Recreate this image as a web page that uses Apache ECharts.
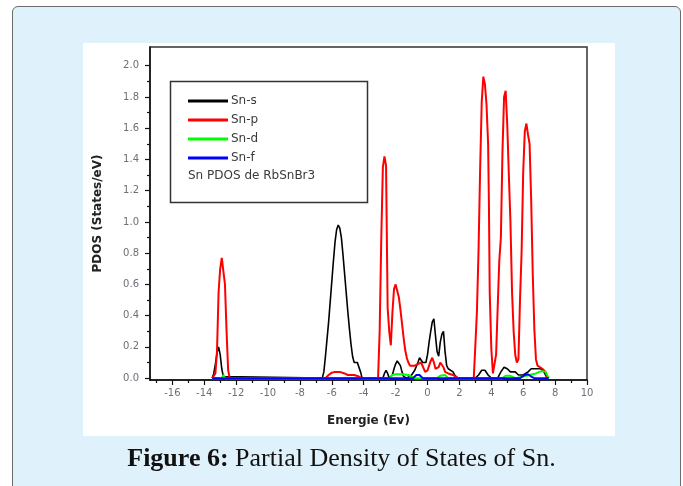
<!DOCTYPE html>
<html>
<head>
<meta charset="utf-8">
<script src="https://cdn.jsdelivr.net/npm/echarts@6/dist/echarts.min.js"></script>
<style>
  html, body { margin: 0; padding: 0; width: 683px; height: 486px; overflow: hidden; background: #fff; }
  .frame { position: absolute; left: 12px; top: 6px; width: 667px; height: 500px; background: #dff1fb; border: 1px solid #6b6b6b; border-radius: 6px; }
  .panel { position: absolute; left: 83px; top: 43px; width: 532px; height: 393px; background: #fff; }
  #chart { position: absolute; left: 0; top: 0; width: 683px; height: 486px; }
</style>
</head>
<body>
<div class="frame"></div>
<div class="panel"></div>
<div id="chart"></div>
<script>
// energy (eV) / PDOS (states/eV) pairs
const snS = [
  [-13.5, 0], [-13.4, 0.03], [-13.3, 0.09], [-13.2, 0.16], [-13.1, 0.2], [-13.0, 0.15], [-12.9, 0.06], [-12.8, 0.01], [-12.7, 0],
  [-6.6, 0], [-6.5, 0.04], [-6.4, 0.14], [-6.3, 0.25], [-6.2, 0.36], [-6.1, 0.49], [-6.0, 0.62], [-5.9, 0.75], [-5.8, 0.87],
  [-5.7, 0.95], [-5.6, 0.98], [-5.5, 0.96], [-5.4, 0.9], [-5.3, 0.79], [-5.2, 0.67], [-5.1, 0.55], [-5.0, 0.43], [-4.9, 0.32],
  [-4.8, 0.22], [-4.7, 0.14], [-4.6, 0.1], [-4.5, 0.11], [-4.4, 0.1], [-4.3, 0.09], [-4.2, 0.04], [-4.1, 0],
  [-2.8, 0], [-2.7, 0.03], [-2.6, 0.05], [-2.5, 0.03], [-2.4, 0], [-2.2, 0.02], [-2.1, 0.06], [-2.0, 0.09], [-1.9, 0.11],
  [-1.8, 0.11], [-1.7, 0.08], [-1.6, 0.04], [-1.5, 0.01], [-1.3, 0], [-1.0, 0.02], [-0.8, 0.05], [-0.6, 0.1], [-0.5, 0.13],
  [-0.4, 0.12], [-0.3, 0.1], [-0.1, 0.1], [0.0, 0.15], [0.1, 0.23], [0.2, 0.3], [0.3, 0.36], [0.4, 0.38], [0.5, 0.27],
  [0.6, 0.17], [0.7, 0.14], [0.8, 0.23], [0.9, 0.28], [1.0, 0.3], [1.1, 0.17], [1.2, 0.08], [1.3, 0.06], [1.4, 0.05],
  [1.6, 0.04], [1.7, 0.02], [1.9, 0],
  [3.0, 0], [3.2, 0.02], [3.4, 0.05], [3.5, 0.06], [3.6, 0.05], [3.8, 0.02], [4.0, 0], [4.4, 0], [4.6, 0.04], [4.8, 0.07],
  [4.9, 0.075], [5.0, 0.06], [5.2, 0.04], [5.5, 0.04], [5.7, 0.02], [6.0, 0.02], [6.3, 0.04], [6.5, 0.06], [6.8, 0.06],
  [7.1, 0.06], [7.3, 0.04], [7.5, 0]
];
const snP = [
  [-13.5, 0], [-13.3, 0.03], [-13.2, 0.17], [-13.1, 0.55], [-13.0, 0.7], [-12.9, 0.77], [-12.8, 0.76], [-12.7, 0.6],
  [-12.6, 0.3], [-12.5, 0.05], [-12.4, 0],
  [-6.4, 0], [-6.2, 0.02], [-6.0, 0.035], [-5.8, 0.04], [-5.5, 0.04], [-5.2, 0.03], [-5.0, 0.02], [-4.6, 0.02], [-4.3, 0.01], [-4.1, 0],
  [-3.1, 0], [-3.0, 0.3], [-2.9, 0.89], [-2.8, 1.35], [-2.7, 1.42], [-2.6, 1.36], [-2.5, 0.45], [-2.4, 0.3], [-2.3, 0.21],
  [-2.2, 0.42], [-2.1, 0.57], [-2.0, 0.6], [-1.9, 0.6], [-1.8, 0.52], [-1.7, 0.44], [-1.6, 0.35], [-1.5, 0.26], [-1.4, 0.18],
  [-1.3, 0.13], [-1.2, 0.1], [-1.1, 0.08], [-1.0, 0.07], [-0.8, 0.08], [-0.6, 0.09], [-0.4, 0.1], [-0.3, 0.09], [-0.15, 0.04],
  [0.0, 0.05], [0.1, 0.08], [0.2, 0.11], [0.3, 0.13], [0.4, 0.1], [0.5, 0.06], [0.6, 0.05], [0.7, 0.07], [0.8, 0.1],
  [0.9, 0.1], [1.0, 0.07], [1.1, 0.04], [1.3, 0.03], [1.6, 0.02], [1.9, 0],
  [2.9, 0], [3.0, 0.21], [3.1, 0.43], [3.2, 0.82], [3.3, 1.34], [3.4, 1.77], [3.5, 1.93], [3.6, 1.88], [3.7, 1.75],
  [3.8, 1.5], [3.85, 1.12], [3.9, 0.55], [4.0, 0.19], [4.1, 0.03], [4.2, 0.02], [4.3, 0.15], [4.4, 0.45], [4.5, 0.75],
  [4.6, 0.9], [4.7, 1.45], [4.8, 1.8], [4.9, 1.84], [5.0, 1.62], [5.1, 1.3], [5.2, 1.0], [5.3, 0.55], [5.4, 0.3],
  [5.5, 0.15], [5.6, 0.1], [5.7, 0.12], [5.8, 0.5], [5.9, 0.81], [6.0, 1.32], [6.1, 1.58], [6.2, 1.63], [6.3, 1.56],
  [6.4, 1.5], [6.5, 1.14], [6.6, 0.66], [6.7, 0.31], [6.8, 0.12], [6.9, 0.08], [7.0, 0.07], [7.2, 0.06], [7.4, 0.04],
  [7.5, 0.01], [7.6, 0]
];
const snD = [
  [-13.5, 0], [-12.9, 0], [-12.8, 0.02], [-12.7, 0], [-2.4, 0], [-2.2, 0.02], [-2.0, 0.025], [-1.6, 0.025], [-1.2, 0.02],
  [-1.0, 0.01], [-0.8, 0], [0.6, 0], [0.8, 0.015], [1.1, 0.02], [1.3, 0], [4.7, 0], [4.9, 0.015], [5.2, 0.015], [5.5, 0],
  [6.0, 0.01], [6.4, 0.02], [6.8, 0.03], [7.0, 0.04], [7.2, 0.045], [7.4, 0.04], [7.6, 0]
];
const snF = [
  [-13.5, 0], [-0.9, 0], [-0.7, 0.02], [-0.5, 0.02], [-0.3, 0], [5.8, 0], [6.1, 0.02], [6.3, 0.025], [6.5, 0.01], [6.7, 0], [7.6, 0]
];

const seriesNames = ['Sn-s', 'Sn-p', 'Sn-d', 'Sn-f'];
const seriesColors = ['#000000', '#ff0000', '#00ff00', '#0000ff'];
const xTicks = [-16, -14, -12, -10, -8, -6, -4, -2, 0, 2, 4, 6, 8, 10];
const xMinorTicks = [-17, -15, -13, -11, -9, -7, -5, -3, -1, 1, 3, 5, 7, 9];
const yTicks = [0, 0.2, 0.4, 0.6, 0.8, 1.0, 1.2, 1.4, 1.6, 1.8, 2.0];
const yMinorTicks = [0.1, 0.3, 0.5, 0.7, 0.9, 1.1, 1.3, 1.5, 1.7, 1.9];

const chart = echarts.init(document.getElementById('chart'));

const sans = 'DejaVu Sans, Liberation Sans, sans-serif';
const labelStyle = { color: '#6e6e7a', fontSize: 10, fontFamily: sans };
const tickStyle = { color: '#111', width: 1.2 };

chart.setOption({
  animation: false,
  backgroundColor: 'transparent',
  title: {
    text: '{b|Figure 6:} Partial Density of States of Sn.',
    left: 'center',
    top: 441,
    textStyle: {
      fontFamily: 'Liberation Serif, serif', fontSize: 26, fontWeight: 'normal', color: '#111',
      rich: { b: { fontFamily: 'Liberation Serif, serif', fontSize: 26, fontWeight: 'bold', color: '#111' } }
    }
  },
  legend: {
    orient: 'vertical',
    left: 188,
    top: 94,
    itemWidth: 40,
    itemHeight: 3,
    itemGap: 5,
    icon: 'rect',
    padding: 0,
    textStyle: { color: '#3a3a3a', fontSize: 12, fontFamily: sans, padding: [0, 0, 0, -2], lineHeight: 14 },
    data: seriesNames
  },
  graphic: [
    { type: 'rect', left: 168, top: 79, shape: { width: 197, height: 121 }, style: { fill: 'none', stroke: '#333', lineWidth: 1.5 } },
    { type: 'text', left: 188, top: 170, style: { text: 'Sn PDOS de RbSnBr3', fill: '#3a3a3a', fontSize: 12, fontFamily: sans } }
  ],
  grid: { left: 150, right: 96, top: 47, bottom: 106, show: true, borderColor: '#333', borderWidth: 1.5, backgroundColor: 'transparent' },
  xAxis: [
    {
      type: 'value', min: -17.4, max: 10,
      name: 'Energie (Ev)', nameLocation: 'middle', nameGap: 35,
      nameTextStyle: { color: '#222', fontSize: 12, fontWeight: 'bold', fontFamily: sans },
      axisLine: { show: true, onZero: false, lineStyle: { color: '#111', width: 1.5 } },
      axisTick: { show: true, length: 5, lineStyle: tickStyle, customValues: xTicks },
      axisLabel: { customValues: xTicks, margin: 8, ...labelStyle },
      splitLine: { show: false }
    },
    {
      type: 'value', min: -17.4, max: 10, position: 'bottom',
      axisLine: { show: false, onZero: false },
      axisTick: { show: true, length: 3, lineStyle: tickStyle, customValues: xMinorTicks },
      axisLabel: { show: false },
      splitLine: { show: false }
    }
  ],
  yAxis: [
    {
      type: 'value', min: -0.012, max: 2.12,
      name: 'PDOS (States/eV)', nameLocation: 'middle', nameGap: 46, nameRotate: 90,
      nameTextStyle: { color: '#222', fontSize: 12, fontWeight: 'bold', fontFamily: sans },
      axisLine: { show: true, onZero: false, lineStyle: { color: '#111', width: 1.5 } },
      axisTick: { show: true, length: 5, lineStyle: tickStyle, customValues: yTicks },
      axisLabel: { customValues: yTicks, margin: 11, formatter: (v) => v.toFixed(1), ...labelStyle },
      splitLine: { show: false }
    },
    {
      type: 'value', min: -0.012, max: 2.12, position: 'left',
      axisLine: { show: false, onZero: false },
      axisTick: { show: true, length: 3, lineStyle: tickStyle, customValues: yMinorTicks },
      axisLabel: { show: false },
      splitLine: { show: false }
    }
  ],
  series: [snS, snP, snD, snF].map((d, i) => ({
    name: seriesNames[i],
    type: 'line',
    data: d,
    showSymbol: false,
    symbol: 'none',
    color: seriesColors[i],
    lineStyle: { color: seriesColors[i], width: i === 0 ? 1.6 : 2 },
    z: 2 + i
  }))
});
</script>
</body>
</html>
